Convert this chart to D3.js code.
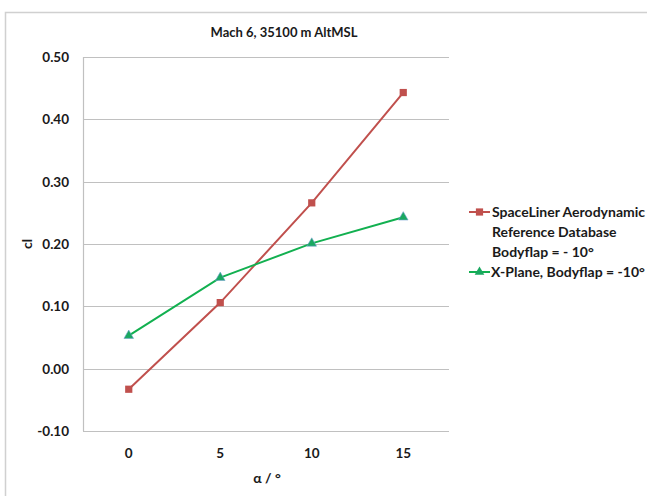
<!DOCTYPE html>
<html>
<meta charset="UTF-8">
<head>
    <script src="https://d3js.org/d3.v7.min.js"></script>
    <style>
        body { margin: 0; background: white; }
        text { font-family: Lato, "Open Sans", sans-serif; font-weight: bold; fill: #1a1a1a; }
    </style>
</head>
<body>
</body>
<script>
    // angle of attack categories
    let alphas = ["0", "5", "10", "15"];
    // lift coefficient values
    let spaceLiner = [-0.033, 0.106, 0.266, 0.443];
    let xPlane = [0.053, 0.146, 0.201, 0.243];
    let yTicks = [-0.10, 0.00, 0.10, 0.20, 0.30, 0.40, 0.50];

    let width = 647, height = 496;
    let plotLeft = 83, plotRight = 449, plotTop = 57, plotBottom = 431;

    let svg = d3.select("body").append("svg")
        .attr("width", width)
        .attr("height", height);

    // outer chart frame (only left and top edge visible)
    svg.append("rect")
        .attr("x", 5.5).attr("y", 12.5)
        .attr("width", 660).attr("height", 520)
        .attr("fill", "none")
        .attr("stroke", "#d0d0d0")
        .attr("stroke-width", 1.5);

    let x = d3.scalePoint().domain(alphas).range([plotLeft, plotRight]).padding(0.5);
    let y = d3.scaleLinear().domain([-0.1, 0.5]).range([plotBottom, plotTop]);

    // gridlines
    svg.append("g")
        .selectAll("line")
        .data(yTicks)
        .join("line")
        .attr("x1", plotLeft).attr("x2", plotRight)
        .attr("y1", d => Math.round(y(d)) + 0.5)
        .attr("y2", d => Math.round(y(d)) + 0.5)
        .attr("stroke", "#c0c0c0")
        .attr("stroke-width", 1.2);

    // left axis line
    svg.append("line")
        .attr("x1", plotLeft + 0.5).attr("x2", plotLeft + 0.5)
        .attr("y1", plotTop).attr("y2", plotBottom)
        .attr("stroke", "#c0c0c0")
        .attr("stroke-width", 1.2);

    // y tick labels (plain hyphen for negatives, like the original)
    svg.append("g")
        .selectAll("text")
        .data(yTicks)
        .join("text")
        .attr("x", 69)
        .attr("y", d => y(d) + 5)
        .attr("text-anchor", "end")
        .attr("font-size", "13.5px")
        .text(d => d.toFixed(2));

    // x tick labels
    svg.append("g")
        .selectAll("text")
        .data(alphas)
        .join("text")
        .attr("x", d => x(d))
        .attr("y", 458)
        .attr("text-anchor", "middle")
        .attr("font-size", "13.5px")
        .text(d => d);

    // title and axis labels
    svg.append("text")
        .attr("x", 284).attr("y", 37)
        .attr("text-anchor", "middle")
        .attr("font-size", "13px")
        .text("Mach 6, 35100 m AltMSL");

    svg.append("text")
        .attr("x", 267).attr("y", 483)
        .attr("text-anchor", "middle")
        .attr("font-size", "14px")
        .text("α / °");

    svg.append("text")
        .attr("transform", "translate(32,244) rotate(-90)")
        .attr("text-anchor", "middle")
        .attr("font-size", "14px")
        .text("cl");

    let line = d3.line()
        .x((d, i) => x(alphas[i]))
        .y(d => y(d));

    let red = "#c0504d", green = "#12b050";

    svg.append("path")
        .datum(spaceLiner)
        .attr("d", line)
        .attr("fill", "none")
        .attr("stroke", red)
        .attr("stroke-width", 2);

    svg.append("path")
        .datum(xPlane)
        .attr("d", line)
        .attr("fill", "none")
        .attr("stroke", green)
        .attr("stroke-width", 2);

    let square = d3.symbol().type(d3.symbolSquare).size(52);
    let triangle = d3.symbol().type(d3.symbolTriangle).size(40);

    svg.append("g")
        .selectAll("path")
        .data(spaceLiner)
        .join("path")
        .attr("transform", (d, i) => `translate(${x(alphas[i])},${y(d)})`)
        .attr("d", square)
        .attr("fill", red);

    svg.append("g")
        .selectAll("path")
        .data(xPlane)
        .join("path")
        .attr("transform", (d, i) => `translate(${x(alphas[i])},${y(d)})`)
        .attr("d", triangle)
        .attr("fill", "#1aa860")
        .attr("stroke", "#6fa0d0")
        .attr("stroke-width", 0.6);

    // legend
    let legend = svg.append("g");
    legend.append("line")
        .attr("x1", 469).attr("x2", 490).attr("y1", 212).attr("y2", 212)
        .attr("stroke", red).attr("stroke-width", 2);
    legend.append("path")
        .attr("transform", "translate(479.5,212)")
        .attr("d", square).attr("fill", red);
    legend.append("line")
        .attr("x1", 469).attr("x2", 490).attr("y1", 272).attr("y2", 272)
        .attr("stroke", green).attr("stroke-width", 2);
    legend.append("path")
        .attr("transform", "translate(479.5,272)")
        .attr("d", triangle).attr("fill", "#1aa860");

    let legendLines = ["SpaceLiner Aerodynamic", "Reference Database", "Bodyflap = - 10°"];
    legend.selectAll(".lt")
        .data(legendLines)
        .join("text")
        .attr("class", "lt")
        .attr("x", 492)
        .attr("y", (d, i) => 217 + i * 20)
        .attr("font-size", "14px")
        .text(d => d);
    legend.append("text")
        .attr("x", 491).attr("y", 277)
        .attr("font-size", "14px")
        .text("X-Plane, Bodyflap = -10°");
</script>
</html>
